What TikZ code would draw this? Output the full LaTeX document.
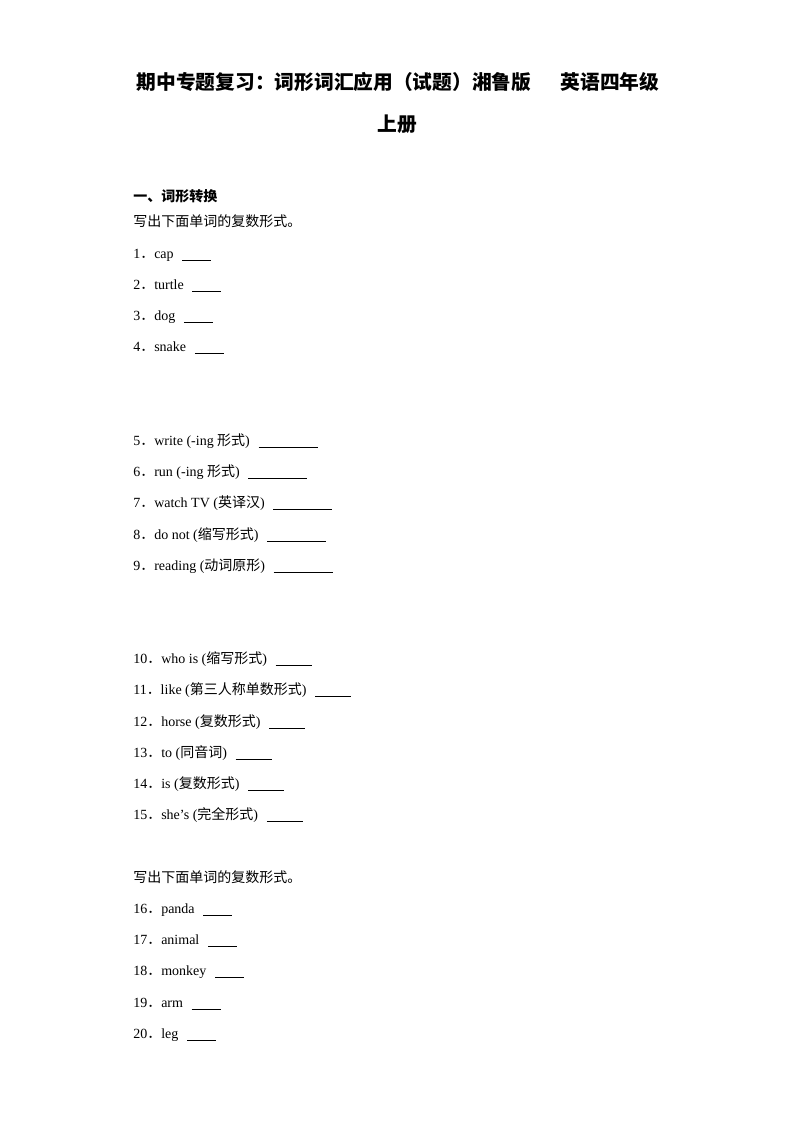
\documentclass[tikz,border=0pt]{standalone}
\usepackage{fontspec}
\setmainfont{Liberation Serif}
\newfontfamily\cjk{Noto Sans CJK SC}
\newcommand{\qno}[1]{#1{\cjk ．}}
\newcommand{\blankline}[1]{\hspace{6.5pt}\rule[-2.2pt]{#1}{0.6pt}}

\begin{document}
\begin{tikzpicture}[x=0.75pt,y=-0.75pt,
    item/.style={anchor=base west, inner sep=0pt, font=\fontsize{10.5pt}{12pt}\selectfont},
    head/.style={anchor=base west, inner sep=0pt, font=\cjk\fontsize{10.5pt}{12pt}\selectfont},
    ttl/.style={anchor=base, inner sep=0pt, font=\cjk\bfseries\fontsize{14.8pt}{18pt}\selectfont}]
  \useasboundingbox (0,0) rectangle (794,1123);
  % title
  \node[ttl] (T1) at (398,90) {期中专题复习：词形词汇应用（试题）湘鲁版\hspace{22pt}英语四年级};
  \node[ttl] (T2) at (397,132) {上册};
  % part one
  \node[head, font=\cjk\bfseries\fontsize{10.5pt}{12pt}\selectfont] (P1) at (133,202) {一、词形转换};
  \node[head] (H1) at (133,227) {写出下面单词的复数形式。};
  \node[item] (q1) at (133,258) {\qno{1}cap\blankline{21.75pt}};
  \node[item] (q2) at (133,289) {\qno{2}turtle\blankline{21.75pt}};
  \node[item] (q3) at (133,320) {\qno{3}dog\blankline{21.75pt}};
  \node[item] (q4) at (133,351) {\qno{4}snake\blankline{21.75pt}};
  % verbs and phrases
  \node[item] (q5) at (133,445) {\qno{5}write (-ing {\cjk 形式})\blankline{44.25pt}};
  \node[item] (q6) at (133,476) {\qno{6}run (-ing {\cjk 形式})\blankline{44.25pt}};
  \node[item] (q7) at (133,507) {\qno{7}watch TV ({\cjk 英译汉})\blankline{44.25pt}};
  \node[item] (q8) at (133,539) {\qno{8}do not ({\cjk 缩写形式})\blankline{44.25pt}};
  \node[item] (q9) at (133,570) {\qno{9}reading ({\cjk 动词原形})\blankline{44.25pt}};
  % mixed forms
  \node[item] (q10) at (133,663) {\qno{10}who is ({\cjk 缩写形式})\blankline{27pt}};
  \node[item] (q11) at (133,694) {\qno{11}like ({\cjk 第三人称单数形式})\blankline{27pt}};
  \node[item] (q12) at (133,726) {\qno{12}horse ({\cjk 复数形式})\blankline{27pt}};
  \node[item] (q13) at (133,757) {\qno{13}to ({\cjk 同音词})\blankline{27pt}};
  \node[item] (q14) at (133,788) {\qno{14}is ({\cjk 复数形式})\blankline{27pt}};
  \node[item] (q15) at (133,819) {\qno{15}she’s ({\cjk 完全形式})\blankline{27pt}};
  % plurals again
  \node[head] (H2) at (133,882) {写出下面单词的复数形式。};
  \node[item] (q16) at (133,913) {\qno{16}panda\blankline{21.75pt}};
  \node[item] (q17) at (133,944) {\qno{17}animal\blankline{21.75pt}};
  \node[item] (q18) at (133,975) {\qno{18}monkey\blankline{21.75pt}};
  \node[item] (q19) at (133,1007) {\qno{19}arm\blankline{21.75pt}};
  \node[item] (q20) at (133,1038) {\qno{20}leg\blankline{21.75pt}};
\end{tikzpicture}
\end{document}
